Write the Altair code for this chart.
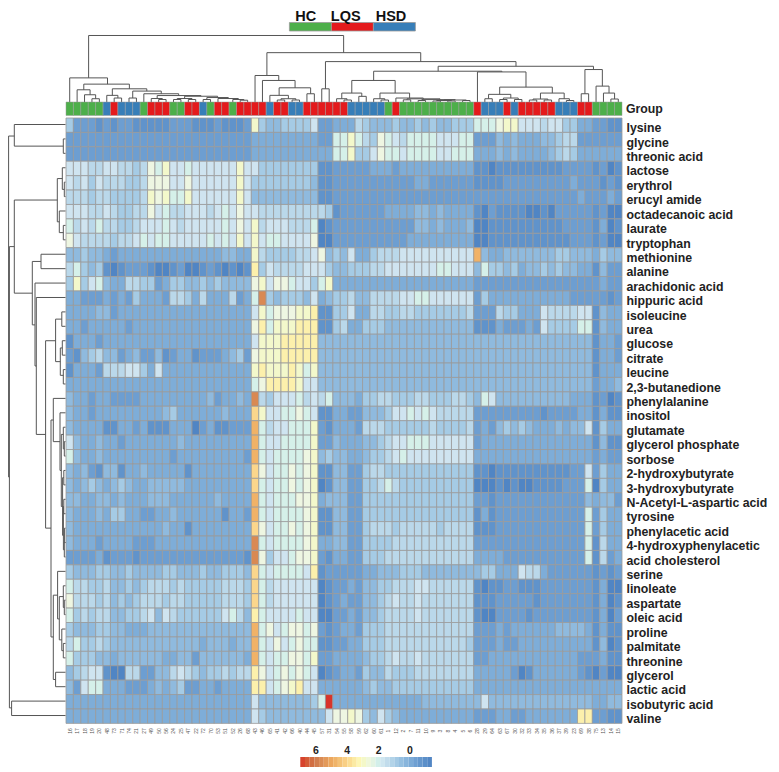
import altair as alt
import pandas as pd

metabolites = ["lysine","glycine","threonic acid","lactose","erythrol","erucyl amide","octadecanoic acid","laurate","tryptophan","methionine","alanine","arachidonic acid","hippuric acid","isoleucine","urea","glucose","citrate","leucine","2,3-butanedione","phenylalanine","inositol","glutamate","glycerol phosphate","sorbose","2-hydroxybutyrate","3-hydroxybutyrate","N-Acetyl-L-aspartic acid","tyrosine","phenylacetic acid","4-hydroxyphenylacetic","acid cholesterol","serine","linoleate","aspartate","oleic acid","proline","palmitate","threonine","glycerol","lactic acid","isobutyric acid","valine"]
samples = [16,17,18,19,20,48,73,71,74,21,27,49,50,56,24,25,47,22,72,70,53,51,52,26,68,43,46,65,41,42,66,40,44,45,57,31,54,55,58,59,62,60,61,1,12,2,7,11,10,9,3,8,4,5,6,28,29,64,63,67,30,32,33,34,35,36,37,39,23,69,38,75,13,14,15]
group_runs = [("HC",5),("HSD",1),("LQS",1),("HSD",3),("HC",1),("LQS",3),("HC",2),("LQS",2),("HSD",1),("HC",1),("LQS",2),("HC",1),("LQS",4),("HSD",1),("LQS",2),("HSD",2),("LQS",6),("HSD",5),("HC",1),("LQS",1),("HC",10),("LQS",1),("HSD",3),("LQS",1),("HSD",1),("LQS",5),("HSD",3),("LQS",2),("HC",4)]

# estimated level of each cell, one letter per sample
level_values = dict(a=-1.3,b=-0.8,c=-0.4,d=0.0,e=0.4,f=0.9,g=1.3,h=1.7,i=2.1,j=2.5,k=2.9,l=3.4,m=4.0,n=4.8,o=5.7,p=7.0)
cells = [
"fcccb cbccb bbbbc ccbbb cbbbc kfeef fffhc cdddg feeef eefef eefff iiijk khhhg hhffd dccbb",
"ccccc ccccc ccccc ccccc ccccc ddddd ddddc ciiki gfjih giiii hhhii ccced eddde efggc ccccc",
"ccccc ccccc ccccc ccccc ccccc ddddd ddddd diikf fhjii hiiii hhiii ddded edddd efgfd ddddd",
"hhhgg hhggf gjikh hihhh hhhkh hffff ffffb bcccc cdddc ddddd ddddd bbabb bbbbb bbccc cbcab",
"hghfh gggff gjjjh hjhhh hhhkh fffff fffeb bcccc ccccc ccddc ccccc bbbbc ccccc cccdc ccbcb",
"gggfg gffff gkjki ikhhh hhhkh eeeee eeeeb bcccc ccccc ccccc ccccc ccccc ccccc ccccd cccdc",
"hhhgg hgffg gjhig ghhhg hihjh hgggg ggggg fbccc cccdd ddeed edddd bacbb bbaab acccc cbcaa",
"ighgi ggffg hhhih ghhhh hihjh kghhh gggia bcccc ccccc cceed eddde aabbb bbbbb bbccc cbdab",
"jhggg gfggh ihiih hhhhi hihkh khiih hhhja acccc ccccc cdddd ddddd aabbb bbbbb bbbcc cbcaa",
"eefee dcddd ddddd ddddd deedd kgfff fgghj efehd dfggg hhhhh hhhhh nedde eeeee effee edfee",
"gifef babcc cbaab caabc babab lfhgg gghhh feeff fgghh hhhhh iihhh eiffe fdeef efeed dbecc",
"fkfhi eddgg ffcdf feefe feeee jkhjj ihhfi kdddd ddddd ddddd ddddd ccccc ccccc ccccc ccdcc",
"ddccc dcdcf dddcg gfdgd ddgcd iofef ffehd effge egggg hhiih hhhhh cfddd ddddd dddcc cccbc",
"dddde ecddd ddddd ddddd ddddd hkijj jkklb bffhd dggff ggfff ffffg cccgf fdddh ggggh hbedd",
"ddcdd dddcd ddddd ddddd ddddd jlikk klllb bfgdd fffee eeeee eeeee bbbdc ccdch ffffi ibedd",
"bdddc ddddd ddddd ddddd ddddd hkkkl lllle eeeee eeeee eeeee eeeee eeeee eeeee eeeee ebddc",
"cbefg eecde ccebc ddbcc cdefc jkkkl lllle eeeee eeeee eeeee eeeee eeeee eeeee eeeee ebddc",
"bdddc ggghh fdhdd ddddd ddddd klkkk lkike eeeee eeeee eeeee eeeee eeeee eeeee eeeee ebddd",
"ddddd ddddd ddddd ddddd ddddd ijlll lkhhe eeeee eeeee eeeee eeeee eeeee eeeee eeeee ecdde",
"eddcd dcccc ddddd dddde cdded ogfhh highg ieeed ffggf ffggf ffggf eihee eeeee eeedd dbcab",
"eddcd ddddd dddef ddddd deddd mkhhi ijihb bddcc eeefh hihih ggggg ccccc ccccb ccccd dbdbb",
"edddd bbddc dbbbd ddacd bbccc nighh iiikc bdddc gggff ffffg ffffg cdcef efedd dedee hbfdd",
"hedde ddcdd ddddd edddd ddddd nihhi iiikc ceddd eefgh hiiih hhhhh cdddd ddddd ddddd dbebb",
"iedde ddddd ddddc ddddd ddddc nihii iijke feedd effgh ihhhh hhhhh ddddd ddddd ddddd dcdcc",
"edecb eebdd edddd dbddd ddddd mjhii jijkb beecc fggff fffff fffff bbabb bbbbb bbbcc hcfdd",
"edefe defed deeee edddd ddddd mihii jijka beecc ffgig fffff fffff aaaba baabb bbccc iafdd",
"eedde ededd deeed ddddd edddd nihii ijjkd eeecc fffff fffff fffff ccbcc ccccc ccccc edeec",
"eddde dffdd ccdde ddddd dbddc nihii iijkb beecc fffff fffff fffff bdbcc ccccc ccccc icfdd",
"edddd ddddd ddded dbddd ddddd mjhii jijkb beecc fgggf ggggg fgggg bbbcc ccccc ccccc icfdd",
"edddc ddddc ccddd ddddd ddddd oihii iijkd deecc ffffg ggggg ggggg ccccc ccccc ccccc ibgdd",
"ccccd bcccb ccccc ccccc ccccb ojfhh ijjkc bddcc fffgg ggggg ggggg ddddc ccccc ccccc ibgcd",
"feeef feefe eeeff eeefe efffe mihii iihlb ccccc ddeee fffee eeeee effdd dhggd ccccc cbcbc",
"iggff geefe fgggf gffff fgggf mighh hhhha bccdc eeffg gghhg ggggg babbc cbbbc ccccc cbdaa",
"jgggf gefef gggfg gffff fgggf mighh hhhha bcdcc eefgh gghgg ggggg bbbcc cccbc ccccc cbdab",
"ifgfg geeff ghehg fffff fhige lihhh hihha accdc eefgg gghgg ggggg baacc ccbcc ccccc cbdac",
"feeef feedd deeee eeeee eeeee nijhi jjijc bcddc fffgg ggggg ggggg cccdc ddddd deeee dbdbb",
"giffg feeee eeeee eeede eedee nihjh ijiib bccdd fffgg ggggg ggggf cccdc cdddd ddddd dbeab",
"ifffe edeee eeedd eecee eeeed nihii jjikc cdddd effgh gghgg ggggg ccddd ddddd ddddc ccdbb",
"efghh baagg cceeg hgfef fgfgg ljhij ijiha bcddc feegf ffggg ggggg ddddd cabdd ddddc bacaa",
"echii dddcc cdede fccdd cdddd llhij klhhd ddddd efeef fffff fffff ddddd ddddd ddddd ddddd",
"ddddd ddddd ddddd ddddd ddddd heeee eeefi pdddd ddddd dddee eeeee eheee eeeee eeeee eddee",
"ddddd ddddd ddddd ddddd ddddd hfeee eeeee hjjkj fehfe ddddd ddddd cccdd ccddd ddddl lccbb",
]

# colour-scale stops
color_stops = [-1.4,-0.4,0,0.9,1.7,2.5,3.2,4,5,6,7]
color_range = ["#4d82c2","#6d9ed1","#7eadd8","#a5cbe5","#cfe4f0","#eef6e2","#fdf8b8","#fbd68c","#eda95f","#cf7c4e","#d8342a"]
legend_ramp = [7,6.7,6.4,6.1,5.8,5.5,5.2,4.9,4.6,4.3,4,3.7,3.4,3.1,2.8,2.5,2.2,1.9,1.6,1.3,1,0.7,0.4,0.1,-0.2,-0.5,-0.8,-1.1,-1.4]

# top dendrogram merges: left pos, right pos, left height, right height, merge height (column units / distance)
top_merges = [
(3.05,37.45,24.3,49.7,67),(27.1,47.85,26.7,40.7,49.7),(35,60.7,13.3,36,40.7),(50.2,71.15,31,32.7,36),(41.5,58.8,21.7,30.3,31),
(55.5,62.05,0,15,30.3),(38.55,44.4,9,9,21.7),(37.2,39.9,3.3,5.7,9),(36.5,37.9,0,2,3.3),(37.5,38.5,0,0,2),(39.5,40.5,0,0,5.7),
(42.35,46.35,3.3,4,9),(41.5,43,0,2,3.3),(42.5,43.5,0,0,2),(44.5,48.2,0,3.2,4),(46,50.45,2.2,2.4,3.2),(45.5,46.5,0,0,2.2),
(48,52.5,1.5,2,2.4),(47.5,48.5,0,0,1.5),(51,54,1.5,1.5,2),(50,52,1,1,1.5),(49.5,50.5,0,0,1),(51.5,52.5,0,0,1),(53.5,54.5,0,0,1.5),
(58.5,65.6,7.7,9,15),(57,60,3.3,4,7.7),(56.5,57.5,0,0,3.3),(59,61,2.5,2.5,4),(58.5,59.5,0,0,2.5),(60.5,61.5,0,0,2.5),
(64,67.2,3,3.3,9),(63,65,2,2,3),(62.5,63.5,0,0,2),(64.5,65.5,0,0,2),(66.5,67.9,0,1.5,3.3),(67.5,68.5,0,0,1.5),
(70,72.35,8.3,16,32.7),(69.5,70.5,0,0,8.3),(71.5,73.25,0,9,16),(72.5,74,0,3,9),(73.5,74.5,0,0,3),(34.5,35.5,0,0,13.3),
(25.5,28.7,0,21.7,26.7),(26.5,30.9,0,14.3,21.7),(28.75,33,6.7,8.3,14.3),(32.5,33.5,0,0,8.3),(27.5,30,0,3.3,6.7),(29,31,2,2,3.3),(28.5,29.5,0,0,2),(30.5,31.5,0,0,2),
(0.5,5.6,0,18,24.3),(2.4,8.55,12.3,13.3,18),(1.5,3.25,0,7.3,12.3),(2.5,4,0,3.3,7.3),(3.5,4.5,0,0,3.3),(6.25,10.9,6.7,11,13.3),(5.5,7,0,4,6.7),(6.5,7.5,0,0,4),
(9,12.85,4,8.3,11),(8.5,9.5,0,0,4),(10.5,15.2,0,6.5,8.3),(12.3,18.2,3.5,5.8,6.5),(11.5,13,0,2.5,3.5),(12.5,13.5,0,0,2.5),(16,20.45,3.5,4.5,5.8),
(15,17,2.5,2.5,3.5),(14.5,15.5,0,0,2.5),(16.5,17.5,0,0,2.5),(19,21.9,2.5,3.5,4.5),(18.5,19.5,0,0,2.5),(20.5,23.25,0,2.5,3.5),(22.5,24,0,1.8,2.5),(23.5,24.5,0,0,1.8),
]
# left dendrogram merges: upper pos, lower pos, upper distance, lower distance, merge distance (row units / distance)
left_merges = [
(1.3,24.95,51.3,56.2,57),(0.5,2,0,2.3,51.3),(1.5,2.5,0,0,2.3),(8.97,40.97,51.3,54,56.2),(40.5,41.5,0,0,54),
(5.74,12.2,8.3,33.3,51.3),(4.25,7.25,3.3,6.3,8.3),(3.5,5,0,1.3,3.3),(4.5,5.5,0,0,1.3),(6.5,8,0,2.3,6.3),(7.5,8.5,0,0,2.3),
(10,14.4,24.6,30.6,33.3),(9.5,10.5,0,0,24.6),(11.5,17.25,0,29.3,30.6),(12.5,22,0,20,29.3),(15.5,28.5,10,14.6,20),
(14,16.95,3.8,5.3,10),(13.5,14.5,0,0,3.8),(16,17.9,3.3,2.3,5.3),(15.5,16.5,0,0,3.3),(17.5,18.5,0,0,2.3),
(21,36.05,12.3,12.3,14.6),(19.5,22.5,0,5.6,12.3),(20.5,24.5,0,4.3,5.6),(22,27,2.3,3,4.3),(21.5,23,0,1.3,2.3),(22.5,23.5,0,0,1.3),(25,29,1.8,2.2,3),(24.5,25.5,0,0,1.8),(27,30,1.8,1.3,2.2),(26.5,27.5,0,0,1.8),(28.5,29.5,0,0,1),(29.5,30.5,0,0,1.3),
(33.15,39,8,10,12.3),(31.5,34.8,0,6.3,8),(33.25,36.25,2.3,3.8,6.3),(32.5,34,0,1.3,2.3),(33.5,34.5,0,0,1.3),(35.5,37,0,2.3,3.8),(36.5,37.5,0,0,2.3),(38.5,39.5,0,0,10),
]

FONT = "Liberation Sans"
LINE = "#555555"
COL_W, ROW_H = 556, 605.4
LEFT_W = 57.6
groups = [g for g, n in group_runs for _ in range(n)]
hm = pd.DataFrame([
    {"row": metabolites[r], "col": samples[c], "v": level_values[ch]}
    for r, s in enumerate(cells)
    for c, ch in enumerate(s.replace(" ", ""))
])
assert all(len(s.replace(" ", "")) == 75 for s in cells), [len(s.replace(" ", "")) for s in cells]
assert len(groups) == 75 and len(samples) == 75 and len(set(samples)) == 75
color_scale = alt.Scale(domain=color_stops, range=color_range)
group_colors = alt.Scale(domain=["HC","LQS","HSD"], range=["#4daf4a","#e41a1c","#377eb8"])

def dendro(merges, pos_scale, hgt_scale, pos_is_x, w, h):
    seg = pd.DataFrame(merges, columns=["p1","p2","h1","h2","h"])
    P = lambda f: alt.X(f, type="quantitative", scale=pos_scale, axis=None) if pos_is_x else alt.Y(f, type="quantitative", scale=pos_scale, axis=None)
    H = lambda f: alt.Y(f, type="quantitative", scale=hgt_scale, axis=None) if pos_is_x else alt.X(f, type="quantitative", scale=hgt_scale, axis=None)
    p2name, h2name = ("x2", "y2") if pos_is_x else ("y2", "x2")
    pch, hch = ("x", "y") if pos_is_x else ("y", "x")
    base = alt.Chart(seg).mark_rule(color=LINE, strokeWidth=1)
    across = base.encode(**{pch: P("p1"), p2name: alt.X2("p2") if pos_is_x else alt.Y2("p2"), hch: H("h")})
    d1 = base.encode(**{pch: P("p1"), hch: H("h1"), h2name: alt.Y2("h") if pos_is_x else alt.X2("h")})
    d2 = base.encode(**{pch: P("p2"), hch: H("h2"), h2name: alt.Y2("h") if pos_is_x else alt.X2("h")})
    return alt.layer(across, d1, d2).properties(width=w, height=h)

# top key
key = pd.DataFrame({"g":["HC","LQS","HSD"],"a":[0,1,2],"b":[1,2,3],"m":[0.39,1.34,2.42]})
key_scale = alt.Scale(domain=[-5.32,7.92], nice=False, zero=False)
key_bars = alt.Chart(key).mark_rect(stroke="#9a9a9a", strokeWidth=0.8).encode(
    x=alt.X("a:Q", scale=key_scale, axis=None), x2="b:Q", y=alt.value(12.5), y2=alt.value(21),
    color=alt.Color("g:N", scale=group_colors, legend=None))
key_text = alt.Chart(key).mark_text(font=FONT, fontWeight="bold", fontSize=14.5, color="#111111", baseline="alphabetic").encode(
    x=alt.X("m:Q", scale=key_scale, axis=None), y=alt.value(10.5), text="g:N")
p_key = alt.layer(key_bars, key_text).properties(width=COL_W, height=24.5)

p_top = dendro(top_merges, alt.Scale(domain=[0,75], nice=False, zero=False), alt.Scale(domain=[0,67.5], nice=False), True, COL_W, 67)

# group bar
gdf = pd.DataFrame({"col": samples, "g": groups})
g_bar = alt.Chart(gdf).mark_rect(stroke="#9a9a9a", strokeWidth=0.5).encode(
    x=alt.X("col:O", sort=samples, axis=None, scale=alt.Scale(paddingInner=0, paddingOuter=0)),
    y=alt.value(0), y2=alt.value(13.5),
    color=alt.Color("g:N", scale=group_colors, legend=None))
g_text = alt.Chart(pd.DataFrame({"t":["Group"]})).mark_text(font=FONT, fontWeight="bold", fontSize=12.3, color="#222222", align="left").encode(
    x=alt.value(560), y=alt.value(7), text="t:N")
p_group = alt.layer(g_bar, g_text).properties(width=COL_W, height=15.8)

# heat map
p_heat = alt.Chart(hm).mark_rect(stroke="#9a9a9a", strokeWidth=0.8).encode(
    x=alt.X("col:O", sort=samples, axis=None, scale=alt.Scale(paddingInner=0, paddingOuter=0)),
    y=alt.Y("row:N", sort=metabolites, scale=alt.Scale(paddingInner=0, paddingOuter=0),
            axis=alt.Axis(orient="right", title=None, domain=False, ticks=False, labelPadding=4, labelOffset=3,
                          labelFont=FONT, labelFontWeight="bold", labelFontSize=12.3, labelColor="#222222", labelLimit=300)),
    color=alt.Color("v:Q", scale=color_scale, legend=None),
).properties(width=COL_W, height=ROW_H)

# sample labels
p_samples = alt.Chart(pd.DataFrame({"col": samples})).mark_text(font=FONT, fontSize=5, angle=270, color="#555555", baseline="middle").encode(
    x=alt.X("col:O", sort=samples, axis=None, scale=alt.Scale(paddingInner=0, paddingOuter=0)),
    y=alt.value(7), text="col:O").properties(width=COL_W, height=13)

# colour bar
ramp = pd.DataFrame({"a": legend_ramp[:-1], "b": legend_ramp[1:]})
ramp["m"] = (ramp.a + ramp.b) / 2
bar_scale = alt.Scale(domain=[21.95,-13.53], nice=False, zero=False)
ramp_bar = alt.Chart(ramp).mark_rect().encode(
    x=alt.X("a:Q", scale=bar_scale, axis=None), x2="b:Q", y=alt.value(20), y2=alt.value(30),
    color=alt.Color("m:Q", scale=color_scale, legend=None))
ramp_text = alt.Chart(pd.DataFrame({"v":[6,4,2,0]})).mark_text(font=FONT, fontWeight="bold", fontSize=10.5, color="#222222").encode(
    x=alt.X("v:Q", scale=bar_scale, axis=None), y=alt.value(14), text="v:Q")
p_bar = alt.layer(ramp_bar, ramp_text).properties(width=COL_W, height=30)

right = alt.vconcat(p_key, p_top, p_group, p_heat, p_samples, p_bar, spacing=0, bounds="flush")
TOP = 107.3
H_ALL = 755.7
left = dendro(left_merges,
              alt.Scale(domain=[-TOP/14.415, (H_ALL-TOP)/14.415], reverse=True, nice=False, zero=False),
              alt.Scale(domain=[LEFT_W,0], nice=False, zero=False), False, LEFT_W, H_ALL)

chart = alt.hconcat(left, right, spacing=0, bounds="flush", padding=0).configure_view(stroke=None)
chart.save("out.html", embed_options={"renderer": "svg", "actions": False})
